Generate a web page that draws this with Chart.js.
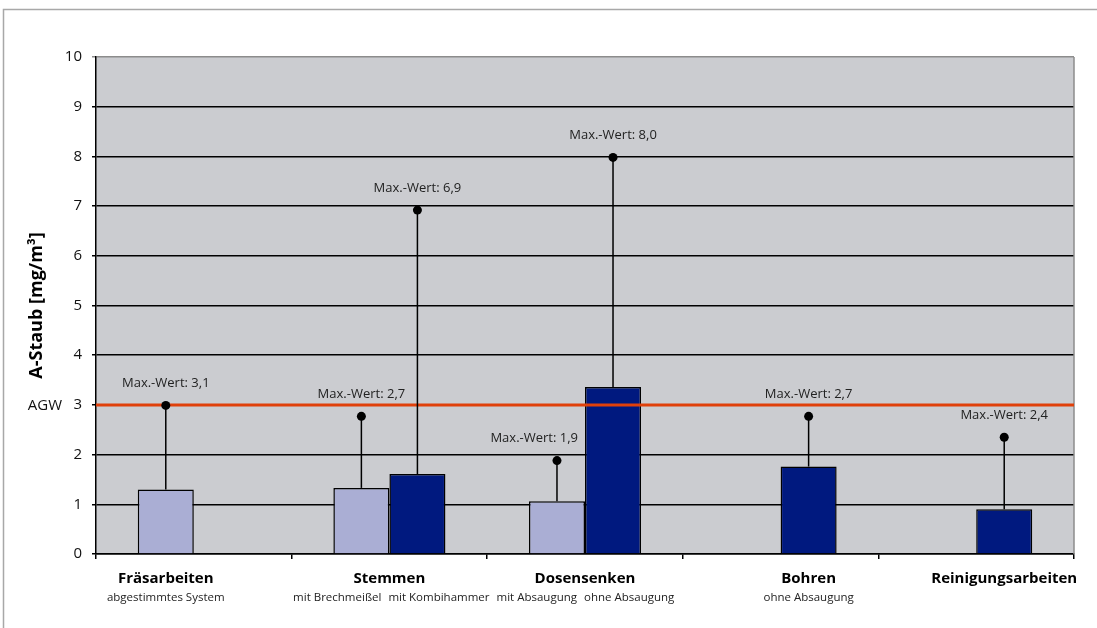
<!DOCTYPE html>
<html>
<head>
<meta charset="utf-8">
<script src="https://cdn.jsdelivr.net/npm/chart.js@4.4.1/dist/chart.umd.min.js"></script>
<style>
html,body{margin:0;padding:0;background:#fff;}
#wrap{position:relative;width:1097px;height:628px;}
</style>
</head>
<body>
<div id="wrap"><canvas id="c" width="1097" height="628"></canvas></div>
<script>
const categories = ['Fräsarbeiten', 'Stemmen', 'Dosensenken', 'Bohren', 'Reinigungsarbeiten'];
const subLabelsLight = ['abgestimmtes System', 'mit Brechmeißel', 'mit Absaugung', '', ''];
const subLabelsDark = ['', 'mit Kombihammer', 'ohne Absaugung', 'ohne Absaugung', ''];
const lightMean = [1.3, 1.33, 1.06, null, null];
const darkMean = [null, 1.61, 3.36, 1.76, 0.9];
const lightMax = [2.99, 2.77, 1.88, null, null];
const darkMax = [null, 6.92, 7.98, 2.77, 2.35];
const lightMaxText = ['Max.-Wert: 3,1', 'Max.-Wert: 2,7', 'Max.-Wert: 1,9', '', ''];
const darkMaxText = ['', 'Max.-Wert: 6,9', 'Max.-Wert: 8,0', 'Max.-Wert: 2,7', 'Max.-Wert: 2,4'];
const agwValue = 3;
const agwLabel = 'AGW';
const yMin = 0, yMax = 10, yStep = 1;
const yTitle = 'A-Staub [mg/m³]';

const FONT = "'Open Sans', 'Noto Sans', sans-serif";
Chart.defaults.font.family = FONT;

const decor = {
  id: 'decor',
  beforeDraw(chart) {
    const ctx = chart.ctx, a = chart.chartArea;
    ctx.save();
    ctx.fillStyle = '#fff';
    ctx.fillRect(0, 0, chart.width, chart.height);
    ctx.strokeStyle = '#a8a8a8';
    ctx.lineWidth = 1.5;
    ctx.strokeRect(3.5, 9.5, chart.width + 20, chart.height + 20);
    ctx.fillStyle = '#cbccd0';
    ctx.fillRect(a.left, a.top, a.right - a.left, a.bottom - a.top);
    ctx.restore();
  },
  afterDatasetsDraw(chart) {
    const ctx = chart.ctx, a = chart.chartArea;
    const y = chart.scales.y;
    ctx.save();
    // right plot border
    ctx.strokeStyle = '#8c8c8c';
    ctx.lineWidth = 1.5;
    ctx.beginPath();
    ctx.moveTo(a.right, a.top);
    ctx.lineTo(a.right, a.bottom);
    ctx.stroke();
    // AGW line
    const ya = y.getPixelForValue(agwValue);
    ctx.strokeStyle = '#e0400a';
    ctx.lineWidth = 3;
    ctx.beginPath();
    ctx.moveTo(a.left, ya);
    ctx.lineTo(a.right, ya);
    ctx.stroke();
    ctx.fillStyle = '#111';
    ctx.font = '15px ' + FONT;
    ctx.textAlign = 'right';
    ctx.textBaseline = 'middle';
    ctx.fillText(agwLabel, 62, ya + 1);
    // error bars to max
    const m0 = chart.getDatasetMeta(0), m1 = chart.getDatasetMeta(1);
    const sets = [[0, lightMean, lightMax, lightMaxText], [1, darkMean, darkMax, darkMaxText]];
    sets.forEach(([di, means, maxs, texts]) => {
      const meta = chart.getDatasetMeta(di);
      meta.data.forEach((bar, i) => {
        if (means[i] == null || maxs[i] == null) return;
        const x = bar.x;
        const yTop = y.getPixelForValue(means[i]);
        const yM = y.getPixelForValue(maxs[i]);
        ctx.strokeStyle = '#000';
        ctx.lineWidth = 1.5;
        ctx.beginPath();
        ctx.moveTo(x, yTop);
        ctx.lineTo(x, yM);
        ctx.stroke();
        ctx.fillStyle = '#000';
        ctx.beginPath();
        ctx.arc(x, yM, 4.5, 0, Math.PI * 2);
        ctx.fill();
        ctx.fillStyle = '#222';
        ctx.font = '13px ' + FONT;
        ctx.textAlign = 'center';
        ctx.textBaseline = 'middle';
        let lx = x;
        const ly = yM - 22;
        const w = ctx.measureText(texts[i]).width;
        // keep label clear of a taller neighbouring bar on the right
        if (di === 0 && darkMean[i] != null) {
          const nb = m1.data[i];
          if (nb.y < ly + 8) {
            const left = nb.x - nb.width / 2;
            if (lx + w / 2 > left - 7) lx = left - 7 - w / 2;
          }
        }
        ctx.fillText(texts[i], lx, ly);
      });
    });
    // category labels
    categories.forEach((cat, i) => {
      const xs = [];
      if (lightMean[i] != null) xs.push(m0.data[i].x);
      if (darkMean[i] != null) xs.push(m1.data[i].x);
      const cx = xs.reduce((s, v) => s + v, 0) / xs.length;
      ctx.fillStyle = '#000';
      ctx.font = 'bold 15px ' + FONT;
      ctx.textAlign = 'center';
      ctx.textBaseline = 'middle';
      ctx.fillText(cat, cx, a.bottom + 25);
      ctx.fillStyle = '#222';
      ctx.font = '11.5px ' + FONT;
      const l = subLabelsLight[i], d = subLabelsDark[i];
      if (l && d) {
        ctx.textAlign = 'right';
        ctx.fillText(l, cx - 8, a.bottom + 44);
        ctx.textAlign = 'left';
        ctx.fillText(d, cx - 1, a.bottom + 44);
      } else if (l || d) {
        ctx.textAlign = 'center';
        ctx.fillText(l || d, cx, a.bottom + 44);
      }
    });
    ctx.restore();
  }
};

new Chart(document.getElementById('c'), {
  type: 'bar',
  data: {
    labels: categories,
    datasets: [
      { data: lightMean, backgroundColor: '#aaaed4', borderColor: '#000', borderWidth: 1.5,
        categoryPercentage: 0.573, barPercentage: 1.0 },
      { data: darkMean, backgroundColor: '#00197f', borderColor: '#000', borderWidth: 1.5,
        categoryPercentage: 0.573, barPercentage: 1.0 }
    ]
  },
  options: {
    responsive: false,
    animation: false,
    devicePixelRatio: 1,
    layout: { padding: { top: 57, right: 23, left: 0, bottom: 0 } },
    plugins: { legend: { display: false }, tooltip: { enabled: false } },
    scales: {
      x: {
        afterFit(s) { s.height = 74; },
        ticks: { display: false },
        grid: { offset: true, drawOnChartArea: false, drawTicks: true, tickLength: 5, color: '#000', lineWidth: 1.5 },
        border: { display: true, color: '#000', width: 1.5 }
      },
      y: {
        min: yMin, max: yMax,
        afterFit(s) { s.width = 96; },
        ticks: { stepSize: yStep, color: '#111', font: { size: 15 }, padding: 10 },
        grid: {
          color: (c) => (c.tick && c.tick.value === yMax ? '#8c8c8c' : '#000'),
          lineWidth: 1.5, tickLength: 4, drawTicks: true
        },
        border: { display: true, color: '#000', width: 1.5 },
        title: { display: true, text: yTitle, color: '#000', font: { size: 18, weight: 'bold' }, padding: { top: 26, bottom: 0 } }
      }
    }
  },
  plugins: [decor]
});
</script>
</body>
</html>
